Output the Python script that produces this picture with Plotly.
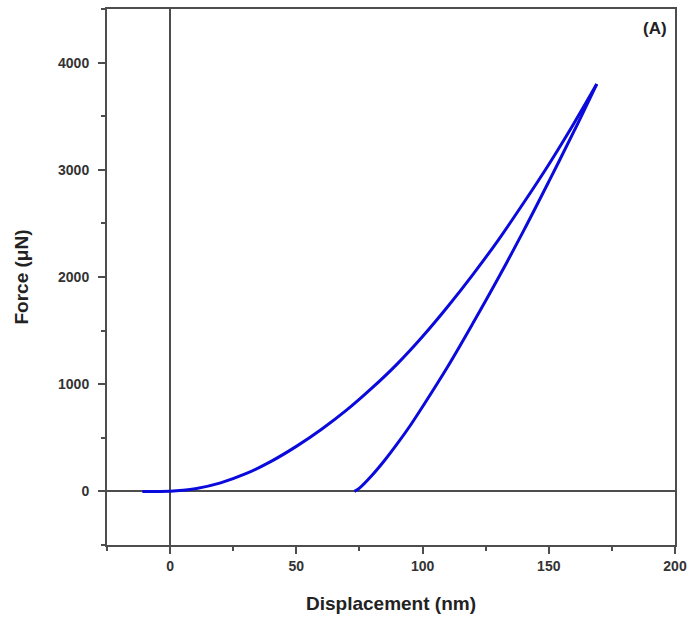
import plotly.graph_objects as go

# Loading segment (displacement nm, force µN)
load_x = [-11, -5, 0, 5, 10, 20, 30, 40, 50, 60, 70, 80, 90, 100, 110, 120, 130, 140, 150, 160, 169]
load_f = [0, 0, 2, 10, 25, 80, 165, 280, 420, 580, 760, 965, 1190, 1445, 1725, 2025, 2345, 2690, 3050, 3435, 3800]

# Unloading segment
unload_x = [169, 160, 150, 140, 130, 120, 110, 100, 95, 90, 85, 80, 75, 73]
unload_f = [3800, 3360, 2890, 2430, 1990, 1570, 1165, 790, 610, 445, 290, 150, 30, 0]

x_ticks = [0, 50, 100, 150, 200]
y_ticks = [0, 1000, 2000, 3000, 4000]

blue = "#0a0adc"
axis_col = "#4d4d4d"

fig = go.Figure()
fig.add_trace(go.Scatter(x=load_x, y=load_f, mode="lines",
                         line=dict(color=blue, width=3, shape="spline"), showlegend=False))
fig.add_trace(go.Scatter(x=unload_x, y=unload_f, mode="lines",
                         line=dict(color=blue, width=3, shape="spline"), showlegend=False))

tick_font = dict(family="Liberation Sans", size=14, color="#333", weight="bold")

fig.update_layout(
    width=689, height=621,
    margin=dict(l=107, r=14, t=9, b=76),
    paper_bgcolor="white", plot_bgcolor="white",
    font=dict(family="Liberation Sans, Arial", color="#222"),
    xaxis=dict(
        range=[-25, 200], tickvals=x_ticks, ticktext=[str(v) for v in x_ticks],
        automargin=False,
        showgrid=False, zeroline=True, zerolinecolor=axis_col, zerolinewidth=2,
        showline=True, linecolor=axis_col, linewidth=2, mirror=True,
        ticks="outside", ticklen=7, tickwidth=2, tickcolor=axis_col,
        minor=dict(tickvals=[-25, 25, 75, 125, 175], ticks="outside", ticklen=4, tickwidth=2, tickcolor=axis_col),
        tickfont=tick_font,
        title=dict(text="<b>Displacement (nm)</b>", font=dict(family="Liberation Sans", size=19, color="#222"), standoff=24),
    ),
    yaxis=dict(
        range=[-500, 4500], tickvals=y_ticks, ticktext=[str(v) for v in y_ticks],
        automargin=False,
        showgrid=False, zeroline=True, zerolinecolor=axis_col, zerolinewidth=2,
        showline=True, linecolor=axis_col, linewidth=2, mirror=True,
        ticks="outside", ticklen=7, tickwidth=2, tickcolor=axis_col,
        ticklabelstandoff=6,
        minor=dict(tickvals=[-500, 500, 1500, 2500, 3500, 4500], ticks="outside", ticklen=4, tickwidth=2, tickcolor=axis_col),
        tickfont=tick_font,
        title=dict(text="<b>Force (μN)</b>", font=dict(family="Liberation Sans", size=19, color="#222"), standoff=24),
    ),
    annotations=[dict(text="<b>(A)</b>", xref="paper", yref="paper", x=0.99, y=0.985,
                      xanchor="right", yanchor="top", showarrow=False,
                      font=dict(family="Liberation Sans", size=17, color="#222"))],
)

fig.write_html("out.html")
